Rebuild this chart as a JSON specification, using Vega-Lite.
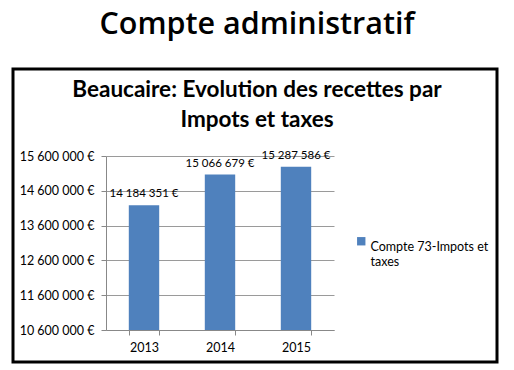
{
  "$schema": "https://vega.github.io/schema/vega-lite/v6.json",
  "autosize": {"type": "none"},
  "width": 228,
  "height": 174,
  "padding": {"left": 106, "top": 156, "right": 180, "bottom": 40},
  "background": "white",
  "config": {
    "locale": {"number": {"decimal": ",", "thousands": " ", "grouping": [3], "currency": ["", " €"]}},
    "view": {"stroke": null},
    "font": "Lato"
  },
  "title": {
    "text": "Compte administratif",
    "subtitle": ["Beaucaire: Evolution des recettes par", "Impots et taxes"],
    "font": "Open Sans",
    "fontSize": 30.5,
    "fontWeight": 600,
    "color": "#000000",
    "subtitleFont": "Lato",
    "subtitleFontSize": 22.5,
    "subtitleFontWeight": "bold",
    "subtitleColor": "#000000",
    "subtitleLineHeight": 30,
    "subtitlePadding": 39,
    "anchor": "middle",
    "frame": "group",
    "dx": 37,
    "offset": -64
  },
  "layer": [
    {
      "data": {"values": [{}]},
      "mark": {"type": "rect", "x": -93, "x2": 391, "y": -87, "y2": 206, "fill": null, "stroke": "#000000", "strokeWidth": 3}
    },
    {
      "data": {"values": [
        {"annee": "2013", "montant": 14184351, "serie": "Compte 73-Impots et taxes"},
        {"annee": "2014", "montant": 15066679, "serie": "Compte 73-Impots et taxes"},
        {"annee": "2015", "montant": 15287586, "serie": "Compte 73-Impots et taxes"}
      ]},
      "encoding": {
        "x": {
          "field": "annee", "type": "nominal",
          "scale": {"paddingInner": 0.6, "paddingOuter": 0.3},
          "axis": {"title": null, "labelAngle": 0, "labelFontSize": 12.5, "labelColor": "#000000", "labelFont": "Lato",
                   "domainColor": "#888888", "tickColor": "#888888", "tickSize": 5, "tickBand": "extent", "labelPadding": 6, "grid": false}
        },
        "y": {
          "field": "montant", "type": "quantitative",
          "scale": {"domain": [10600000, 15600000], "nice": false, "zero": false},
          "axis": {"title": null, "values": [10600000, 11600000, 12600000, 13600000, 14600000, 15600000],
                   "format": "$,.0f", "labelFontSize": 12.5, "labelColor": "#000000", "labelFont": "Lato",
                   "domainColor": "#888888", "tickColor": "#888888", "tickSize": 5, "labelPadding": 7,
                   "grid": true, "gridColor": "#9a9a9a"}
        }
      },
      "layer": [
        {
          "mark": {"type": "bar", "color": "#4F81BD", "clip": true},
          "encoding": {
            "color": {"field": "serie", "type": "nominal", "scale": {"range": ["#4F81BD"]},
                      "legend": {"title": null, "orient": "none", "legendX": 249, "legendY": 79, "symbolType": "square",
                                 "symbolSize": 70, "symbolStrokeWidth": 0, "labelFontSize": 12.5, "labelColor": "#000000", "labelFont": "Lato",
                                 "labelExpr": "['Compte 73-Impots et', 'taxes']", "labelBaseline": "top", "labelOffset": 3, "padding": 0}}
          }
        },
        {
          "mark": {"type": "text", "baseline": "bottom", "dy": -6, "fontSize": 11.5, "color": "#000000", "font": "Lato"},
          "encoding": {"text": {"field": "montant", "type": "quantitative", "format": "$,.0f"}}
        }
      ]
    }
  ]
}
